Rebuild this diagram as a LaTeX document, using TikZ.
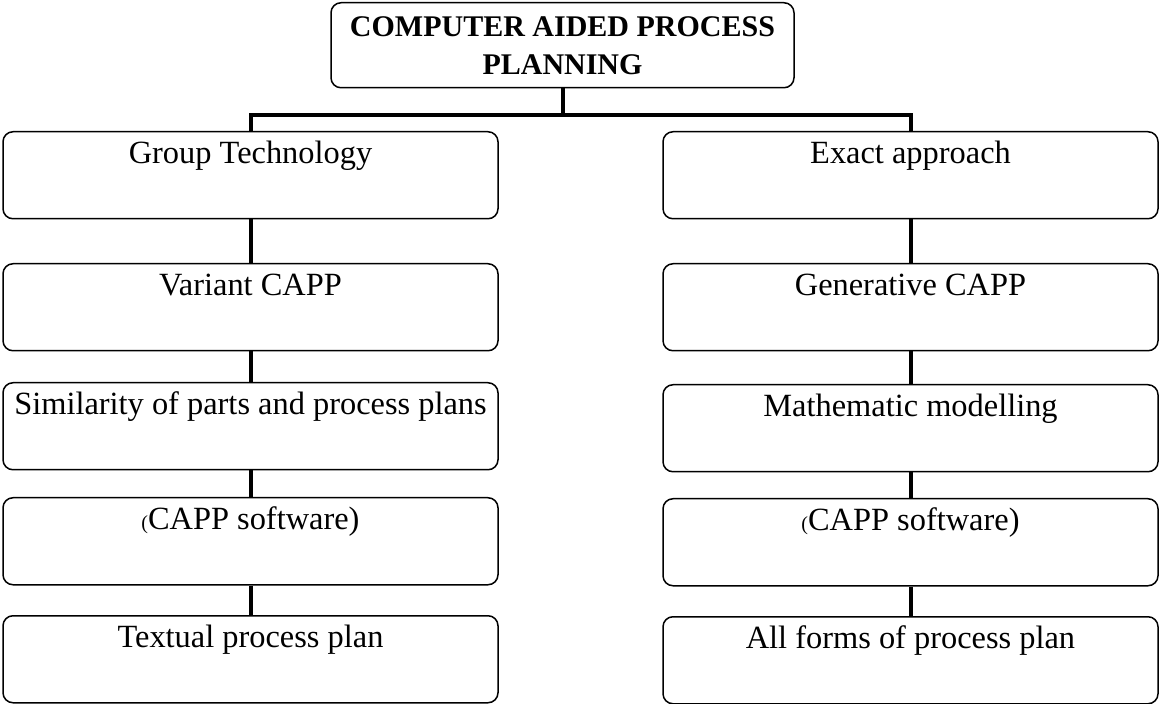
\documentclass[tikz,border=0pt]{standalone}
\usepackage{fontspec}
\setmainfont{Liberation Serif}
\usetikzlibrary{shapes,arrows,positioning}

\begin{document}
\begin{tikzpicture}[x=0.5pt, y=-0.5pt]
			\tikzstyle{Box}	= [draw, rounded corners=5pt, line width=0.75pt, anchor=north, minimum width=247.5pt, inner xsep=1pt, inner ysep=3pt, text height=13pt, text depth=24.5pt, font=\fontsize{16.2pt}{19pt}\selectfont]
			\tikzstyle{Title}	= [draw, rounded corners=5pt, line width=0.75pt, anchor=north, minimum width=231.5pt, minimum height=42.5pt, align=center, font=\fontsize{15pt}{19pt}\selectfont\bfseries]
			\tikzstyle{Link}	= [line width=2pt]
			
			\useasboundingbox (0,0) rectangle (1160,704);
			
			\node (top) at (562.5, 2) [Title] {COMPUTER AIDED PROCESS\\PLANNING};
			
			\node (l1) at (250.5, 131) [Box] {Group Technology};
			\node (l2) at (250.5, 263) [Box] {Variant CAPP};
			\node (l3) at (250.5, 382) [Box] {Similarity of parts and process plans};
			\node (l4) at (250.5, 497) [Box] {{\fontsize{10pt}{10pt}\selectfont(}CAPP software)};
			\node (l5) at (250.5, 615) [Box] {Textual process plan};
			
			\node (r1) at (910.5, 131) [Box] {Exact approach};
			\node (r2) at (910.5, 263) [Box] {Generative CAPP};
			\node (r3) at (910.5, 384) [Box] {Mathematic modelling};
			\node (r4) at (910.5, 498) [Box] {{\fontsize{10pt}{10pt}\selectfont(}CAPP software)};
			\node (r5) at (910.5, 616) [Box] {All forms of process plan};
			
			\coordinate (hm) at (562.5, 115);
			
			\draw [-] (top) to (hm) [Link];
			\draw [-] (l1.north) |- (hm) -| (r1.north) [Link];
			\draw [-] (l1) to (l2) [Link];
			\draw [-] (l2) to (l3) [Link];
			\draw [-] (l3) to (l4) [Link];
			\draw [-] (l4) to (l5) [Link];
			\draw [-] (r1) to (r2) [Link];
			\draw [-] (r2) to (r3) [Link];
			\draw [-] (r3) to (r4) [Link];
			\draw [-] (r4) to (r5) [Link];
		\end{tikzpicture}
\end{document}
